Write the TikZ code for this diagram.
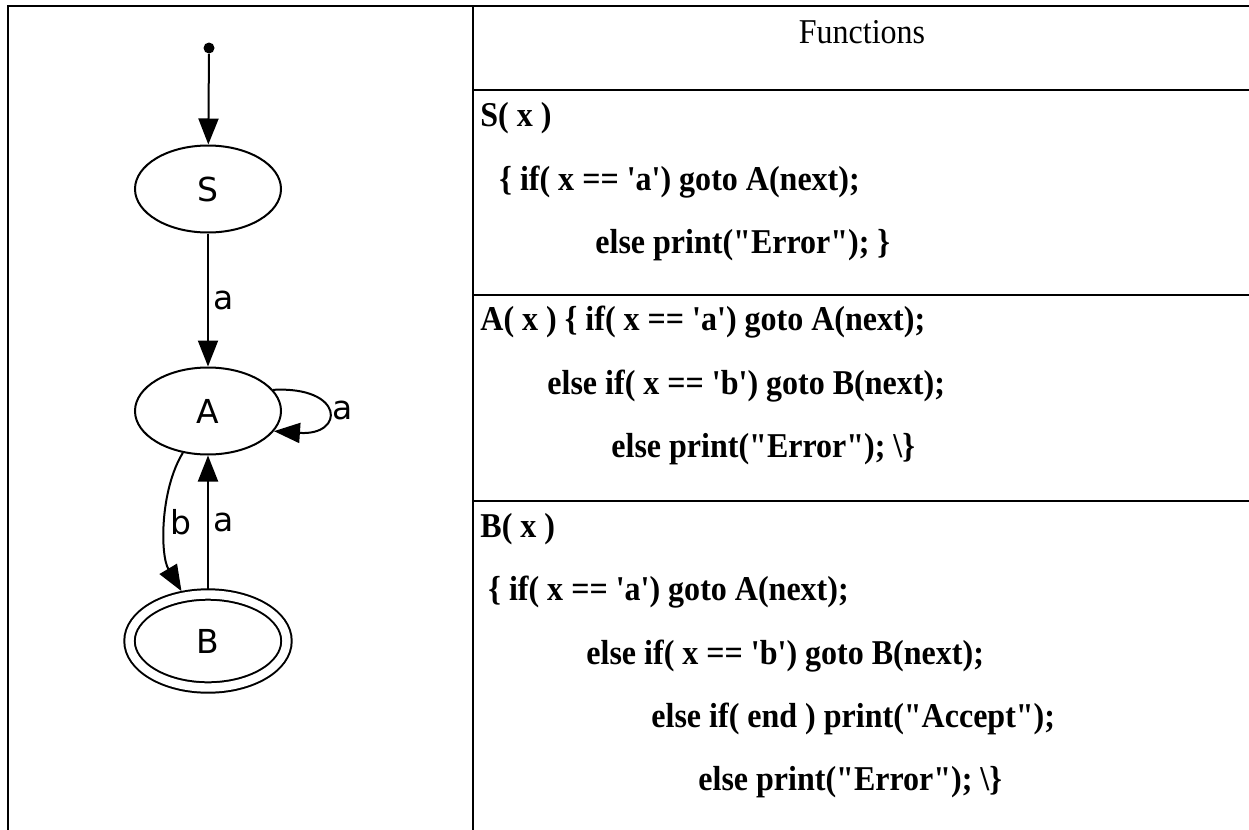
\documentclass[tikz,border=0pt]{standalone}
\usepackage{fontspec}
\usetikzlibrary{arrows.meta,shapes.geometric}
\newfontfamily\gvfont{DejaVu Sans}
\newfontfamily\codefont[FakeStretch=0.92]{Liberation Serif}
\tikzset{
  gvstate/.style={ellipse, draw, line width=1pt, inner sep=0pt,
                  minimum width=73pt, minimum height=43.5pt,
                  font=\gvfont\fontsize{16.5}{19}\selectfont},
  gvaccept/.style={gvstate, double, double distance=4.2pt,
                   minimum width=78.5pt, minimum height=46.5pt, outer sep=3pt},
  trans/.style={-{Triangle[length=13pt,width=10pt]}, line width=1pt},
  lbl/.style={font=\gvfont\fontsize{16.5}{19}\selectfont, inner sep=2pt},
  tabline/.style={line width=1pt},
  headtxt/.style={font=\codefont\fontsize{17.4}{20}\selectfont},
  codetxt/.style={anchor=west, inner sep=0pt,
                  font=\codefont\bfseries\fontsize{17.4}{20}\selectfont},
}

\begin{document}
\begin{tikzpicture}[x=0.5pt, y=-0.5pt]
  \useasboundingbox (0,0) rectangle (1249,830);
  % table
  \draw[tabline] (8,830) -- (8,6) -- (1249,6);
  \draw[tabline] (473,6) -- (473,830);
  \draw[tabline] (473,90) -- (1249,90);
  \draw[tabline] (473,295) -- (1249,295);
  \draw[tabline] (473,501) -- (1249,501);
  % automaton
  \node[circle, fill, inner sep=0pt, minimum size=5.5pt] (start) at (209,48) {};
  \node[gvstate] (S) at (208,189) {S};
  \node[gvstate] (A) at (208,411) {A};
  \node[gvaccept] (B) at (208,641) {B};
  \draw[trans] (start) -- (S);
  \draw[trans] (S) -- node[lbl, right] {a} (A);
  \draw[trans] (A.18) .. controls (345,386) and (345,436) .. node[lbl, right] {a} (A.-17);
  \draw[trans] (A.239) .. controls (160,490) and (160,555) .. node[lbl, right] {b} (B.118);
  \draw[trans] (B) -- node[lbl, right] {a} (A);
  % functions
  \node[headtxt] (head) at (862,32) {Functions};
  \node[codetxt] (s1) at (480,118) {S( x )};
  \node[codetxt] (s2) at (499,182) {\{ if( x == 'a') goto A(next);};
  \node[codetxt] (s3) at (595,245) {else print("Error"); \}};
  \node[codetxt] (a1) at (480,322) {A( x ) \{ if( x == 'a') goto A(next);};
  \node[codetxt] (a2) at (547,386) {else if( x == 'b') goto B(next);};
  \node[codetxt] (a3) at (611,449) {else print("Error"); \textbackslash\}};
  \node[codetxt] (b1) at (480,529) {B( x )};
  \node[codetxt] (b2) at (488,592) {\{ if( x == 'a') goto A(next);};
  \node[codetxt] (b3) at (586,656) {else if( x == 'b') goto B(next);};
  \node[codetxt] (b4) at (651,719) {else if( end ) print("Accept");};
  \node[codetxt] (b5) at (698,782) {else print("Error"); \textbackslash\}};
\end{tikzpicture}
\end{document}
